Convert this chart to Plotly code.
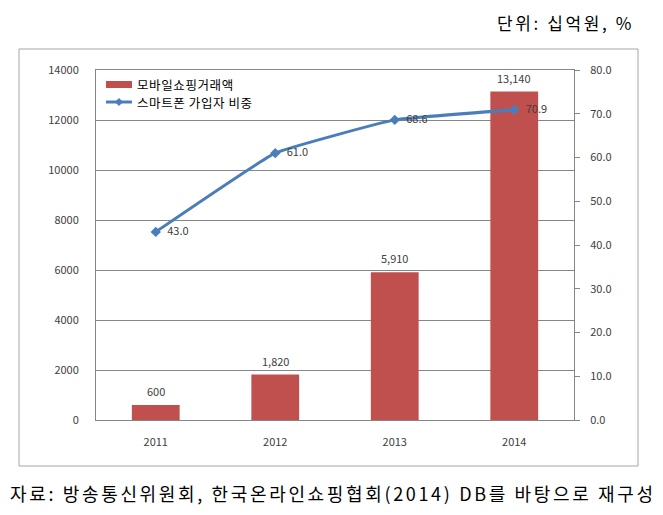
import plotly.graph_objects as go

years = ["2011", "2012", "2013", "2014"]
sales = [600, 1820, 5910, 13140]
sales_labels = ["600", "1,820", "5,910", "13,140"]
share = [43.0, 61.0, 68.6, 70.9]
share_labels = ["43.0", "61.0", "68.6", "70.9"]
left_ticks = [0, 2000, 4000, 6000, 8000, 10000, 12000, 14000]
left_tick_labels = ["0", "2000", "4000", "6000", "8000", "10000", "12000", "14000"]
right_ticks = [0, 10, 20, 30, 40, 50, 60, 70, 80]
right_tick_labels = ["0.0", "10.0", "20.0", "30.0", "40.0", "50.0", "60.0", "70.0", "80.0"]
bar_name = "모바일쇼핑거래액"
line_name = "스마트폰 가입자 비중"
unit_text = "단위: 십억원, %"
source_text = "자료: 방송통신위원회, 한국온라인쇼핑협회(2014) DB를 바탕으로 재구성"

FONT = "Noto Sans CJK KR"
BAR_C = "#C0504D"
LINE_C = "#4A7EBB"
GRID_C = "#868686"
LABEL_C = "#404040"

# plot area in pixels
L, R, T, B = 88, 566, 62, 412
W, H = 663, 515
def px(x):
    return (x - L) / (R - L)
def py(y):
    return (B - y) / (B - T)

fig = go.Figure()
fig.add_trace(go.Bar(
    x=years, y=sales, name=bar_name,
    marker=dict(color=BAR_C, line=dict(width=0)),
    width=0.4, showlegend=False,
))
for i, (v, lab) in enumerate(zip(sales, sales_labels)):
    fig.add_annotation(x=i, y=v, xref="x", yref="y", text=lab, showarrow=False,
                       yanchor="middle", yshift=14,
                       font=dict(size=11, color=LABEL_C, family=FONT))

fig.add_trace(go.Scatter(
    x=years, y=share, name=line_name, yaxis="y2",
    mode="lines+markers+text",
    line=dict(color=LINE_C, width=3, shape="spline", smoothing=0.3),
    marker=dict(symbol="diamond", size=8, color=LINE_C),
    text=["\u2002" + s for s in share_labels], textposition="middle right",
    textfont=dict(size=11, color=LABEL_C, family=FONT),
    cliponaxis=False, showlegend=False,
))

fig.update_layout(
    width=W, height=H,
    margin=dict(l=L, r=W - R, t=T, b=H - B),
    paper_bgcolor="white", plot_bgcolor="white",
    font=dict(family=FONT, color=LABEL_C),
    showlegend=False,
    bargap=0.6,
    xaxis=dict(type="category", range=[-0.5, 3.5], showline=True, linecolor=GRID_C, linewidth=1,
               mirror=True, ticks="", tickfont=dict(size=11, color=LABEL_C),
               ticklabelstandoff=12, automargin=False),
    yaxis=dict(range=[0, 14000], tickvals=left_ticks, ticktext=left_tick_labels, showgrid=True,
               gridcolor=GRID_C, gridwidth=1, showline=True, linecolor=GRID_C,
               ticks="", tickfont=dict(size=11, color=LABEL_C), zeroline=False,
               ticklabelstandoff=14, automargin=False),
    yaxis2=dict(range=[0, 80], tickvals=right_ticks, ticktext=right_tick_labels,
                overlaying="y", side="right", showgrid=False, showline=True,
                linecolor=GRID_C, ticks="outside", ticklen=5, tickcolor=GRID_C,
                ticklabelstandoff=8,
                tickfont=dict(size=11, color=LABEL_C), zeroline=False, automargin=False),
)

# outer chart border
fig.add_shape(type="rect", xref="paper", yref="paper",
              x0=px(11), x1=px(630), y0=py(458), y1=py(41),
              line=dict(color="#A6A6A6", width=1), fillcolor="rgba(0,0,0,0)", layer="above")

# manual legend
fig.add_shape(type="rect", xref="paper", yref="paper",
              x0=px(98), x1=px(124), y0=py(80), y1=py(73),
              line=dict(width=0), fillcolor=BAR_C)
fig.add_shape(type="line", xref="paper", yref="paper",
              x0=px(98), x1=px(124), y0=py(94), y1=py(94),
              line=dict(color=LINE_C, width=3))
cx, cy, d = 111, 94, 4
fig.add_shape(type="path", xref="paper", yref="paper",
              path=f"M {px(cx-d)} {py(cy)} L {px(cx)} {py(cy-d)} L {px(cx+d)} {py(cy)} L {px(cx)} {py(cy+d)} Z",
              line=dict(color=LINE_C, width=0), fillcolor=LINE_C)
fig.add_annotation(xref="paper", yref="paper", x=px(127), y=py(76), xanchor="left", yanchor="middle",
                   text=f'<span style="letter-spacing:0.6px">{bar_name}</span>', showarrow=False,
                   font=dict(size=12.5, color="#000000", family=FONT))
fig.add_annotation(xref="paper", yref="paper", x=px(127), y=py(94.5), xanchor="left", yanchor="middle",
                   text=f'<span style="letter-spacing:0.6px">{line_name}</span>', showarrow=False,
                   font=dict(size=12.5, color="#000000", family=FONT))

fig.add_annotation(xref="paper", yref="paper", x=px(628), y=py(15), xanchor="right", yanchor="middle",
                   text=f'<span style="letter-spacing:2.6px">{unit_text}</span>', showarrow=False,
                   font=dict(size=17, color="#000000", family=FONT))
fig.add_annotation(xref="paper", yref="paper", x=px(0), y=py(485), xanchor="left", yanchor="middle",
                   text=f'<span style="letter-spacing:2.65px">{source_text}</span>', showarrow=False,
                   font=dict(size=18, color="#000000", family=FONT))

fig.write_html("out.html")
